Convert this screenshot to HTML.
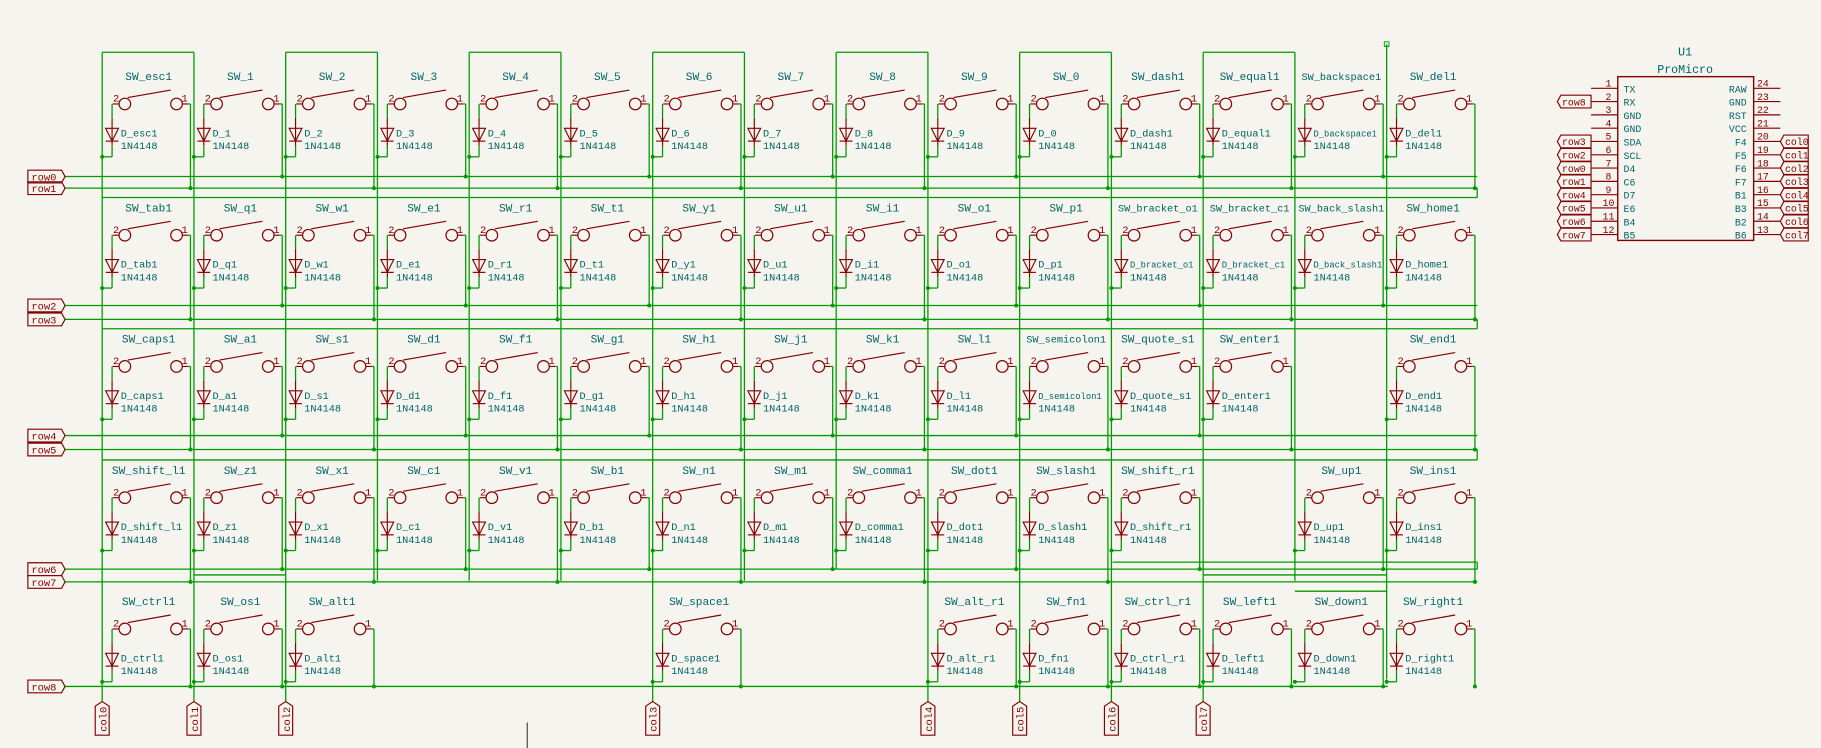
<!DOCTYPE html>
<html><head><meta charset="utf-8"><style>
html,body{margin:0;padding:0;background:#f5f4ef;}
svg{display:block}
text{font-family:"Liberation Mono",monospace;}
</style></head><body>
<svg id="s" width="1821" height="748" viewBox="0 0 1568 644" preserveAspectRatio="none" xmlns="http://www.w3.org/2000/svg">
<rect width="1568" height="644" fill="#f5f4ef"/>
<g id="g"></g>
</svg>
<script>
const G='#009a00',R='#840000',T='#006464';
let o='';
const ln=(x1,y1,x2,y2,c=G,w=1.1)=>o+=`<line x1="${x1}" y1="${y1}" x2="${x2}" y2="${y2}" stroke="${c}" stroke-width="${w}"/>`;
const tx=(x,y,s,c=T,fs=10,a='middle')=>o+=`<text x="${x}" y="${y}" fill="${c}" font-size="${fs}" text-anchor="${a}">${s}</text>`;
const dot=(x,y)=>o+=`<circle cx="${x}" cy="${y}" r="1.7" fill="${G}"/>`;
const X=[88,167,246,325,404,483,562,641,720,799,878,957,1036,1115,1194];
const rows=[
['esc1','1','2','3','4','5','6','7','8','9','0','dash1','equal1','backspace1','del1'],
['tab1','q1','w1','e1','r1','t1','y1','u1','i1','o1','p1','bracket_o1','bracket_c1','back_slash1','home1'],
['caps1','a1','s1','d1','f1','g1','h1','j1','k1','l1','semicolon1','quote_s1','enter1',null,'end1'],
['shift_l1','z1','x1','c1','v1','b1','n1','m1','comma1','dot1','slash1','shift_r1',null,'up1','ins1'],
['ctrl1','os1','alt1',null,null,null,'space1',null,null,'alt_r1','fn1','ctrl_r1','left1','down1','right1']];
const RY=[66,179,292,405,518];
const rA=[152,263,375,490,591], rB=[162,275,387,501,591];
const vext={88:[45,604],167:[45,604],246:[45,604],325:[45,500],404:[45,500],483:[45,500],562:[45,604],641:[45,500],720:[45,490],799:[45,604],878:[45,604],957:[45,604],1036:[45,604],1115:[45,500],1194:[38,585]};
for(const k in vext) ln(+k,vext[k][0],+k,vext[k][1]);
o+=`<rect x="1192" y="36" width="4" height="4" fill="none" stroke="${G}" stroke-width="0.8"/>`;
[[88,167],[246,325],[404,483],[562,641],[720,799],[878,957],[1036,1115]].forEach(p=>ln(p[0],45,p[1],45));
[170,283,396].forEach(y=>ln(88,y,1272,y));
ln(167,495,246,495);ln(958,484,1272,484);ln(1036,495,1194,495);ln(1115,509,1194,509);
ln(1272,162,1272,170);ln(1272,275,1272,283);ln(1272,387,1272,396);ln(1272,484,1272,490);
const rl=[['row0',152],['row1',162],['row2',263],['row3',275],['row4',375],['row5',387],['row6',490],['row7',501],['row8',591]];
rl.forEach(([n,y])=>{ln(56,y,n=='row8'?1195:1272,y);
o+=`<path d="M24 ${y-5.5}H53l3 5.5-3 5.5H24Z" fill="none" stroke="${R}" stroke-width="1"/>`;tx(27,y+3.5,n,R,9,'start');});
rows.forEach((row,r)=>{const y=RY[r];row.forEach((n,k)=>{if(!n)return;const x=X[k];
 const lbl='SW_'+n;const fs=lbl.length>11?8.8:9.6;
 tx(x+40,y+3,lbl,T,fs);
 const sy=y+23.5;
 o+=`<circle cx="${x+19.5}" cy="${sy}" r="5" fill="none" stroke="${R}" stroke-width="1"/>`;
 o+=`<circle cx="${x+64}" cy="${sy}" r="5" fill="none" stroke="${R}" stroke-width="1"/>`;
 ln(x+22,sy-5.5,x+59,sy-12,R,1);
 tx(x+12,sy-2,'2',R,9);tx(x+71,sy-2,'1',R,9);
 ln(x+9,sy,x+14.5,sy,R,1);ln(x+69,sy,x+74,sy,R,1);
 ln(x+8.5,sy,x+8.5,sy+12,G);ln(x+8.5,sy+12,x+8.5,sy+36,R,1);
 o+=`<path d="M${x+3} ${sy+21}h11l-5.5 11z" fill="none" stroke="${R}" stroke-width="1"/>`;ln(x+3,sy+32,x+14,sy+32,R,1);
 ln(x+8.5,sy+36,x+8.5,sy+45.5,G);ln(x,sy+45.5,x+8.5,sy+45.5);dot(x,sy+45.5);
 const d='D_'+n;
 tx(x+16,sy+28,d,T,d.length>11?7.6:8.8,'start');tx(x+16,sy+39,'1N4148',T,8.8,'start');
 const ry=(k%2==0)?rB[r]:rA[r];
 ln(x+74,sy,x+76,sy);ln(x+76,sy,x+76,ry);dot(x+76,ry);
});});
const cl=[[88,'col0'],[167,'col1'],[246,'col2'],[562,'col3'],[799,'col4'],[878,'col5'],[957,'col6'],[1036,'col7']];
cl.forEach(([x,n])=>{o+=`<path d="M${x-6} 633V608l6-4 6 4V633Z" fill="none" stroke="${R}" stroke-width="1"/>`;
o+=`<text transform="translate(${x+3.5},630) rotate(-90)" fill="${R}" font-size="9">${n}</text>`;});
ln(454,622,454,644,'#444',1);
tx(1451,48,'U1',T,10);tx(1451,63,'ProMicro',T,10);
o+=`<rect x="1393" y="66" width="117" height="141" fill="none" stroke="${R}" stroke-width="1.2"/>`;
const L=['TX','RX','GND','GND','SDA','SCL','D4','C6','D7','E6','B4','B5'];
const Rn=['RAW','GND','RST','VCC','F4','F5','F6','F7','B1','B3','B2','B6'];
const Rp=[24,23,22,21,20,19,18,17,16,15,14,13];
const ll={1:'row8',4:'row3',5:'row2',6:'row0',7:'row1',8:'row4',9:'row5',10:'row6',11:'row7'};
for(let i=0;i<12;i++){const y=76+i*11.45;
 ln(1370,y,1393,y,R,1);ln(1510,y,1533,y,R,1);
 tx(1398,y+3.5,L[i],T,8.5,'start');tx(1504,y+3.5,Rn[i],T,8.5,'end');
 tx(1385,y-1.5,i+1,R,8.5);tx(1518,y-1.5,Rp[i],R,8.5);
 if(ll[i]){o+=`<path d="M1370 ${y-5.5}H1344l-3 5.5 3 5.5H1370Z" fill="none" stroke="${R}" stroke-width="1"/>`;tx(1345,y+3.2,ll[i],R,8.5,'start');}
 if(i>=4){o+=`<path d="M1533 ${y}l3 -5.5H1557V${y+5.5}H1536Z" fill="none" stroke="${R}" stroke-width="1"/>`;tx(1537,y+3.2,'col'+(i-4),R,8.5,'start');}
}
document.getElementById('g').innerHTML=o;
</script>
</body></html>
